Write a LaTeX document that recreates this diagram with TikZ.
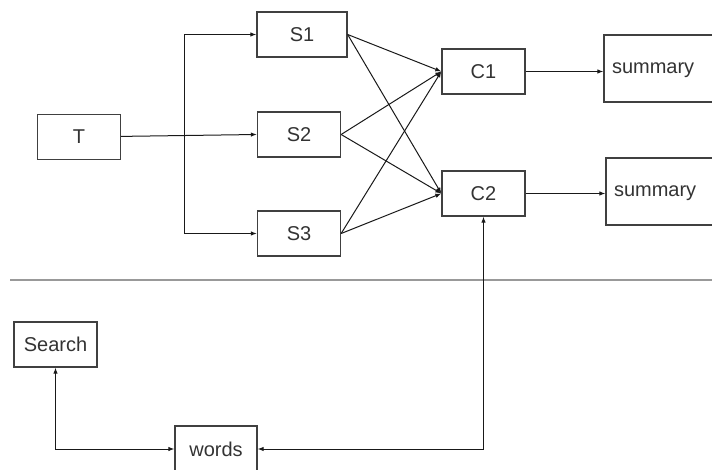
\documentclass[tikz,border=0pt]{standalone}
\usepackage{fontspec}
\setmainfont{Liberation Sans}
\usetikzlibrary{arrows.meta,positioning}

\begin{document}
\begin{tikzpicture}[x=1pt,y=-1pt,>={Latex[length=6pt,width=4.5pt]},
	every node/.style={text=black!80,font=\fontsize{20pt}{24pt}\selectfont},
	box/.style={draw=black!75,line width=1.3pt,minimum width=83pt,minimum height=45pt,inner sep=0pt},
	sumbox/.style={box,minimum height=67pt,text width=96pt,inner xsep=8pt,align=left,text height=10.4pt,text depth=0pt},
	link/.style={draw=black!90,line width=1pt}]
	\clip (0,0) rectangle (712,470);
	\node[box] (T) at (79,137) {T};
	\node[box,minimum width=90pt] (S1) at (302,34.5) {S1};
	\node[box] (S2) at (299,134.5) {S2};
	\node[box] (S3) at (299,233.5) {S3};
	\node[box] (C1) at (483.5,71.5) {C1};
	\node[box] (C2) at (483.5,193.5) {C2};
	\node[sumbox] (sum1) at (660,68.5) {summary};
	\node[sumbox] (sum2) at (662,191.5) {summary};
	\node[box] (search) at (55.5,344.5) {Search};
	\node[box,minimum width=82pt,minimum height=46pt] (words) at (216,449) {words};
	\coordinate (fork) at (184,136);
	\draw[draw=black!40,line width=2.2pt] (10,280) -- (712,280);
	\path[link] (T) edge[->] (S2.west)
		(S1.east) edge[->] (C1.west)
		(S1.east) edge[->] (C2.west)
		(S2.east) edge[->] (C1.west)
		(S2.east) edge[->] (C2.west)
		(S3.east) edge[->] (C1.west)
		(S3.east) edge[->] (C2.west);
	\draw[link,->] (fork) |- (S1.west);
	\draw[link,->] (fork) |- (S3.west);
	\draw[link,->] (C1.east) -- (C1.east -| sum1.west);
	\draw[link,->] (C2.east) -- (C2.east -| sum2.west);
	\draw[link,<->] (words.east) -| (C2.south);
	\draw[link,<->] (search.south) |- (words.west);
\end{tikzpicture}
\end{document}
